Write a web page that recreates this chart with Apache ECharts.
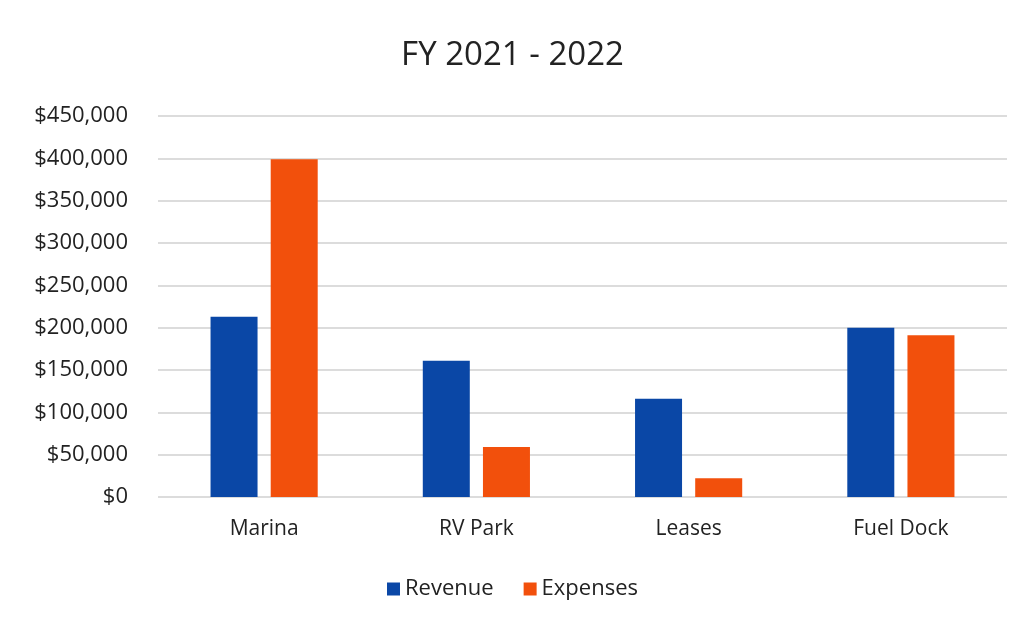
<!DOCTYPE html>
<html><head><meta charset="utf-8">
<script src="https://cdn.jsdelivr.net/npm/echarts@6/dist/echarts.min.js"></script>
<style>html,body{margin:0;padding:0;background:#fff}#c{width:1025px;height:626px}</style>
</head><body><div id="c"></div>
<script>
const categories = ['Marina', 'RV Park', 'Leases', 'Fuel Dock'];
const revenue = [213000, 161000, 116000, 200000];
const expenses = [399000, 59000, 22000, 191000];
const yTicks = { min: 0, max: 450000, interval: 50000 };

const chart = echarts.init(document.getElementById('c'));
const font = '"Open Sans", Lato, sans-serif';
chart.setOption({
  backgroundColor: '#fff',
  animation: false,
  title: { text: 'FY 2021 - 2022', left: 'center', top: 34,
    textStyle: { fontFamily: font, fontSize: 33, fontWeight: 'normal', color: '#222' } },
  legend: { bottom: 21, left: 'center', itemWidth: 13, itemHeight: 13, itemGap: 30,
    icon: 'rect', textStyle: { fontFamily: font, fontSize: 22, color: '#222' } },
  grid: { left: 158, right: 18, top: 116, bottom: 129 },
  xAxis: { type: 'category', data: categories,
    axisLine: { show: false }, axisTick: { show: false },
    axisLabel: { fontFamily: font, fontSize: 21, color: '#222', margin: 22 } },
  yAxis: { type: 'value', min: yTicks.min, max: yTicks.max, interval: yTicks.interval,
    axisLine: { show: false }, axisTick: { show: false },
    splitLine: { lineStyle: { color: '#dcdcdc', width: 2 } },
    axisLabel: { fontFamily: font, fontSize: 22, color: '#222', margin: 30,
      formatter: v => '$' + v.toLocaleString('en-US') } },
  series: [
    { name: 'Revenue', type: 'bar', data: revenue, barWidth: 47, barGap: '28%',
      itemStyle: { color: '#0a47a6' } },
    { name: 'Expenses', type: 'bar', data: expenses, barWidth: 47,
      itemStyle: { color: '#f2500c' } }
  ]
});
</script></body></html>
